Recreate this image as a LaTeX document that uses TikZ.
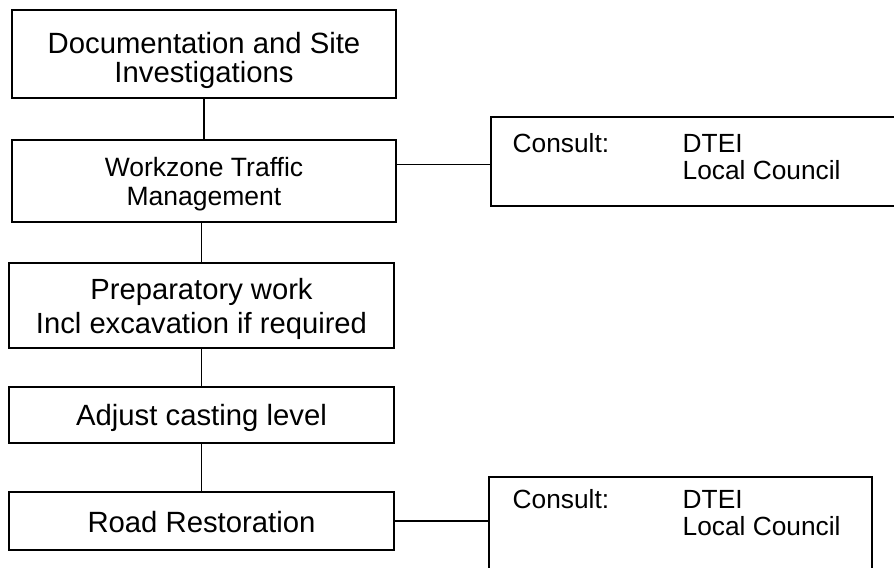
\documentclass[tikz,border=0pt]{standalone}
\usepackage{fontspec}
\setmainfont{Liberation Sans}
\usetikzlibrary{calc,positioning}
\newcommand{\topgap}[1]{\rule{0pt}{#1}}

\begin{document}
\begin{tikzpicture}[x=1bp, y=-1bp, line width=1.2bp]
   \clip (0,0) rectangle (894,568);
   \begin{scope}[every node/.style={draw, line width=1.8bp, inner sep=0pt, align=center, font=\fontsize{29.4}{28.5}\selectfont}]
    \node (doc) [minimum width=384bp, minimum height=88bp] at (204,54) {\topgap{34bp}Documentation and Site\\Investigations};
    \node (wz) [minimum width=384bp, minimum height=82bp, font=\fontsize{26.6}{28.5}\selectfont] at (204,181) {\topgap{25.5bp}Workzone Traffic\\Management};
    \node (prep) [minimum width=385bp, minimum height=85bp, font=\fontsize{29.3}{34}\selectfont] at (201.5,305.5) {\topgap{27.5bp}Preparatory work\\Incl excavation if required};
    \node (adj) [minimum width=385bp, minimum height=56bp] at (201.5,415) {\topgap{27.5bp}Adjust casting level};
    \node (road) [minimum width=385bp, minimum height=58bp] at (201.5,521) {\topgap{23.5bp}Road Restoration};
    \node (con1) [minimum width=430bp, minimum height=89bp] at (706,161.5) {};
    \node (con2) [minimum width=383bp, minimum height=120bp] at (680.5,537) {};
   \end{scope}
   \begin{scope}[every node/.style={anchor=base west, inner sep=0pt, font=\fontsize{26.4}{28}\selectfont}]
    \node (con1txt) at ($(con1.north west)+(22,36)$) {\begin{tabular}[t]{@{}p{170bp}@{}l@{}}Consult: & DTEI\\ & Local Council\end{tabular}};
    \node (con2txt) at ($(con2.north west)+(24,32)$) {\begin{tabular}[t]{@{}p{170bp}@{}l@{}}Consult: & DTEI\\ & Local Council\end{tabular}};
   \end{scope}
   \coordinate (wzout) at ($(wz.north east)!0.3!(wz.south east)$);
   \draw (doc) -- (wz);
   \draw (wz.south -| prep.north) -- (prep.north);
   \draw (prep) -- (adj);
   \draw (adj) -- (road);
   \draw (wzout) -- (wzout -| con1.west);
   \draw (road.east) -- (road.east -| con2.west);
\end{tikzpicture}
\end{document}
